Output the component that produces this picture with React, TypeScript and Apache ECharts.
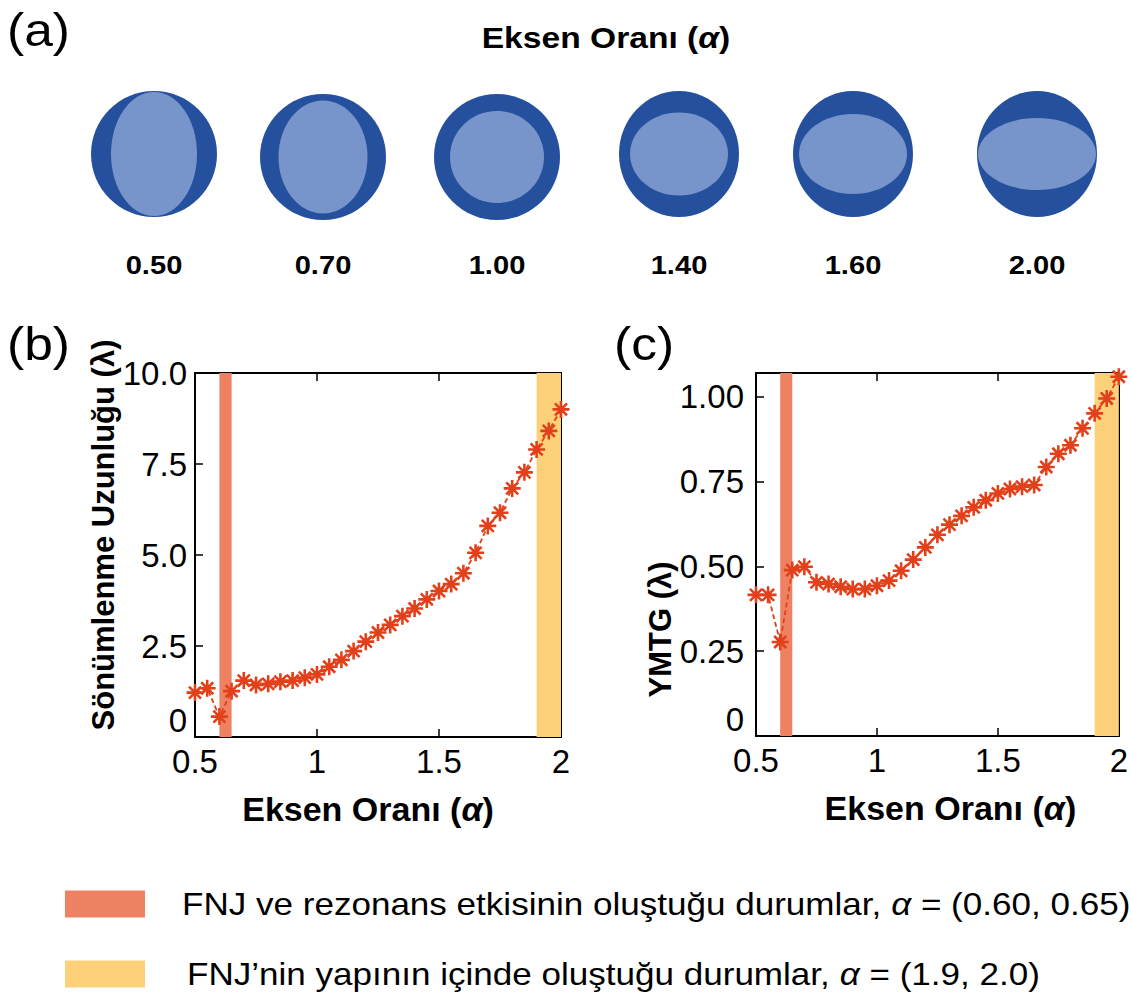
import React, { useEffect, useRef } from 'react';
import * as echarts from 'echarts';

// Aspect ratio (x values)
const alpha = [0.50, 0.55, 0.60, 0.65, 0.70, 0.75, 0.80, 0.85, 0.90, 0.95, 1.00, 1.05, 1.10, 1.15, 1.20, 1.25, 1.30, 1.35, 1.40, 1.45, 1.50, 1.55, 1.60, 1.65, 1.70, 1.75, 1.80, 1.85, 1.90, 1.95, 2.00];
// (b) Sönümlenme Uzunluğu
const dampingLength = [1.22, 1.34, 0.56, 1.26, 1.55, 1.43, 1.46, 1.52, 1.55, 1.63, 1.72, 1.93, 2.12, 2.36, 2.62, 2.87, 3.08, 3.32, 3.53, 3.78, 4.01, 4.20, 4.50, 5.06, 5.80, 6.16, 6.83, 7.27, 7.90, 8.41, 9.00];
// (c) YMTG
const ymtg = [0.416, 0.416, 0.277, 0.489, 0.499, 0.453, 0.448, 0.440, 0.433, 0.433, 0.443, 0.458, 0.487, 0.520, 0.556, 0.593, 0.623, 0.649, 0.674, 0.695, 0.715, 0.728, 0.735, 0.740, 0.793, 0.832, 0.857, 0.907, 0.951, 0.995, 1.059];

const resonanceBand = [0.60, 0.65];
const insideBand = [1.9, 2.0];
const shapeRatioLabels = ['0.50', '0.70', '1.00', '1.40', '1.60', '2.00'];
const legendTexts = [
  'FNJ ve rezonans etkisinin oluştuğu durumlar, {i|α} = (0.60, 0.65)',
  'FNJ’nin yapının içinde oluştuğu durumlar, {i|α} = (1.9, 2.0)',
];
const xTitle = 'Eksen Oranı ({i|α})';
const yTitleB = 'Sönümlenme Uzunluğu (λ)';
const yTitleC = 'YMTG (λ)';

// drawing layout (styling, not data)
const shapeLayout = [
  { cx: 154, cy: 154, orx: 63, ory: 63, irx: 43, iry: 62 },
  { cx: 323, cy: 157, orx: 63, ory: 63, irx: 44.5, iry: 56.5 },
  { cx: 497, cy: 157, orx: 63, ory: 63, irx: 47, iry: 46 },
  { cx: 679, cy: 154, orx: 60, ory: 63, irx: 49, iry: 41.5 },
  { cx: 853, cy: 154, orx: 60, ory: 63, irx: 54, iry: 40 },
  { cx: 1037, cy: 154, orx: 60, ory: 63, irx: 59, iry: 36 },
];

const RED = '#e2401b';
const BAND_RED = '#ef8163';
const BAND_YELLOW = '#fdd17a';
const DARK_BLUE = '#24509e';
const LIGHT_BLUE = '#7795ca';
const FONT = '"Liberation Sans", Arial, Helvetica, sans-serif';
const STAR = 'path://M0,8L16,8M8,0L8,16M2.34,2.34L13.66,13.66M2.34,13.66L13.66,2.34';
const STRETCH = 1.12;

const italicRich = (size: number, weight: string) => ({
  i: { fontStyle: 'italic', fontSize: size, fontWeight: weight, fontFamily: FONT, color: '#000' },
});

function xAxisPair(gridIndex: number, namePadding: number[]) {
  const common = {
    type: 'value',
    gridIndex,
    min: 0.5,
    max: 2,
    interval: 0.5,
    splitLine: { show: false },
    axisLine: { show: true, onZero: false, lineStyle: { color: '#000', width: 2 } },
    axisTick: { show: true, inside: true, length: 8, lineStyle: { color: '#000', width: 1.5 } },
  };
  return [
    {
      ...common,
      position: 'bottom',
      axisLabel: { fontSize: 33, color: '#000', fontFamily: FONT, margin: 8, formatter: (v: number) => String(v) },
      name: xTitle,
      nameLocation: 'middle',
      nameGap: 55,
      nameTextStyle: { fontSize: 34, fontWeight: 'bold', color: '#000', fontFamily: FONT, padding: namePadding, rich: italicRich(34, 'bold') },
    },
    { ...common, position: 'top', axisLabel: { show: false } },
  ];
}

function yAxisPair(gridIndex: number, max: number, interval: number, fmt: (v: number) => string, name: string, nameGap: number, padding: number[], margin: number) {
  const common = {
    type: 'value',
    gridIndex,
    min: 0,
    max,
    interval,
    splitLine: { show: false },
    axisLine: { show: true, onZero: false, lineStyle: { color: '#000', width: 2 } },
    axisTick: { show: true, inside: true, length: 8, lineStyle: { color: '#000', width: 1.5 } },
  };
  return [
    {
      ...common,
      position: 'left',
      axisLabel: {
        fontSize: 33, color: '#000', fontFamily: FONT, margin, formatter: fmt,
        showMaxLabel: max === 10, verticalAlignMinLabel: 'bottom',
      },
      name,
      nameLocation: 'middle',
      nameGap,
      nameTextStyle: { fontSize: 31, fontWeight: 'bold', color: '#000', fontFamily: FONT, padding },
    },
    { ...common, position: 'right', axisLabel: { show: false } },
  ];
}

function lineSeries(values: number[], xAxisIndex: number, yAxisIndex: number) {
  return {
    type: 'line',
    xAxisIndex,
    yAxisIndex,
    data: alpha.map((a, i) => [a, values[i]]),
    symbol: STAR,
    symbolSize: 17,
    lineStyle: { color: RED, width: 1.8, type: [5, 3] },
    itemStyle: { color: 'none', borderColor: RED, borderWidth: 2.6 },
    markArea: {
      silent: true,
      data: [
        [{ xAxis: resonanceBand[0], itemStyle: { color: BAND_RED, opacity: 1 } }, { xAxis: resonanceBand[1] }],
        [{ xAxis: insideBand[0], itemStyle: { color: BAND_YELLOW, opacity: 1 } }, { xAxis: insideBand[1] }],
      ],
    },
  };
}

export default function App() {
  const ref = useRef<HTMLDivElement>(null);
  useEffect(() => {
    if (!ref.current) return;
    const chart = echarts.init(ref.current, null, { renderer: 'svg' });

    const graphics: any[] = [];
    const panelLabel = (text: string, x: number, y: number) => ({
      type: 'text', x, y, scaleX: STRETCH,
      style: { text, fontSize: 46, fontFamily: FONT, fill: '#000', verticalAlign: 'middle' },
    });
    graphics.push(panelLabel('(a)', 7, 30));
    graphics.push(panelLabel('(b)', 7, 344));
    graphics.push(panelLabel('(c)', 614, 344));
    graphics.push({
      type: 'text', x: 606, y: 38, scaleX: STRETCH,
      style: {
        text: xTitle, rich: italicRich(30, 'bold'), fontSize: 30, fontWeight: 'bold', fontFamily: FONT, fill: '#000',
        align: 'center', verticalAlign: 'middle',
      },
    });
    shapeLayout.forEach((s, i) => {
      graphics.push({ type: 'ellipse', shape: { cx: s.cx, cy: s.cy, rx: s.orx, ry: s.ory }, style: { fill: DARK_BLUE } });
      graphics.push({ type: 'ellipse', shape: { cx: s.cx, cy: s.cy, rx: s.irx, ry: s.iry }, style: { fill: LIGHT_BLUE } });
      graphics.push({
        type: 'text', x: s.cx, y: 265, scaleX: STRETCH,
        style: { text: shapeRatioLabels[i], fontSize: 26, fontWeight: 'bold', fontFamily: FONT, fill: '#000', align: 'center', verticalAlign: 'middle' },
      });
    });
    const legendColors = [BAND_RED, BAND_YELLOW];
    const legendY = [904, 974];
    const legendX = [182, 187];
    legendTexts.forEach((t, i) => {
      graphics.push({ type: 'rect', shape: { x: 65, y: legendY[i] - 13.5, width: 80, height: 27 }, style: { fill: legendColors[i] } });
      graphics.push({
        type: 'text', x: legendX[i], y: legendY[i], scaleX: STRETCH,
        style: { text: t, rich: italicRich(31.3, 'normal'), fontSize: 31.3, fontFamily: FONT, fill: '#000', verticalAlign: 'middle' },
      });
    });

    const fmtB = (v: number) => (v === 0 ? '0' : v.toFixed(1));
    const fmtC = (v: number) => {
      if (v === 0) return '0';
      const k = v / 0.25;
      return Math.abs(k - Math.round(k)) < 1e-6 ? v.toFixed(2) : '';
    };

    chart.setOption({
      animation: false,
      backgroundColor: '#fff',
      grid: [
        { left: 195, top: 373, width: 366, height: 364 },
        { left: 756, top: 373, width: 365, height: 363 },
      ],
      xAxis: [...xAxisPair(0, [0, 20, 0, 0]), ...xAxisPair(1, [0, 0, 0, 26])],
      yAxis: [
        ...yAxisPair(0, 10, 2.5, fmtB, yTitleB, 73, [0, 0, 0, 40], 8),
        ...yAxisPair(1, 1.07, 0.25, fmtC, yTitleC, 78, [0, 150, 0, 0], 12),
      ],
      series: [lineSeries(dampingLength, 0, 0), lineSeries(ymtg, 2, 2)],
      graphic: graphics,
    });
    return () => chart.dispose();
  }, []);
  return <div ref={ref} style={{ position: 'fixed', left: 0, top: 0, width: 1131, height: 996 }} />;
}
